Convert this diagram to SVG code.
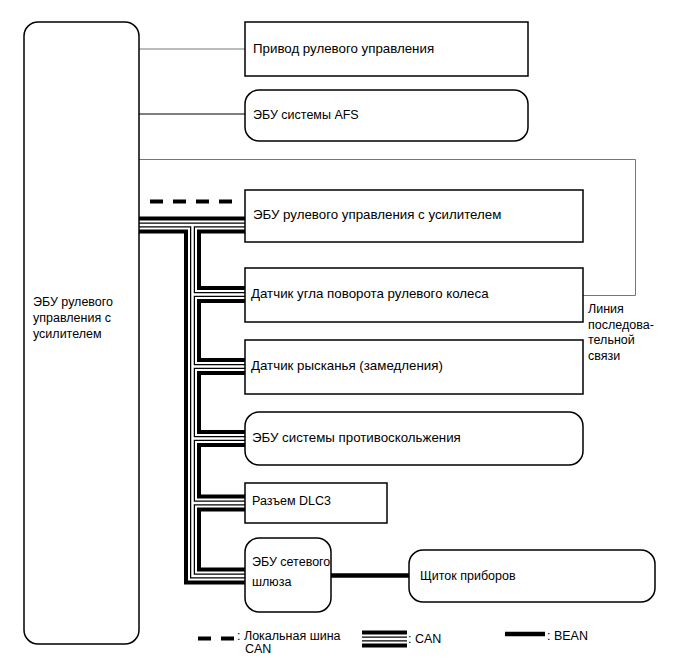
<svg xmlns="http://www.w3.org/2000/svg" xmlns:xlink="http://www.w3.org/1999/xlink" width="691" height="660" viewBox="0 0 691 660">
<style>
text{font-family:"Liberation Sans",Arial,sans-serif;font-size:12.5px;fill:#000}
.lg{font-size:13.3px}
.box{fill:#fff;stroke:#000;stroke-width:1.5}
.thin{fill:none;stroke:#000;stroke-width:1}
.gray{fill:none;stroke:#777;stroke-width:1}
.c1{fill:none;stroke:#000;stroke-width:17}
.c2{fill:none;stroke:#fff;stroke-width:9}
.c3{fill:none;stroke:#000;stroke-width:5}
.c4{fill:none;stroke:#fff;stroke-width:2.5}
.bean{fill:none;stroke:#000;stroke-width:4.5}
.dash{fill:none;stroke:#000;stroke-width:4;stroke-dasharray:13 10}
</style>
<defs>
<path id="canpath" d="M139,225 H245 M192.5,225 V576 H245 M192.5,294.5 H245 M192.5,366.5 H245 M192.5,438.5 H245 M192.5,503 H245" stroke-linejoin="miter"/>
<path id="canleg" d="M362,639 H407"/>
</defs>
<rect width="691" height="660" fill="#fff"/>
<g id="connectors">
<line class="gray" x1="139" y1="49" x2="245" y2="49"/>
<line class="thin" x1="139" y1="114" x2="245" y2="114"/>
<polyline class="gray" points="139,159.5 635.5,159.5 635.5,295.5 583,295.5"/>
<line class="dash" x1="150" y1="201.5" x2="236" y2="201.5"/>
<use xlink:href="#canpath" class="c1"/>
<use xlink:href="#canpath" class="c2"/>
<use xlink:href="#canpath" class="c3"/>
<use xlink:href="#canpath" class="c4"/>
<line class="bean" x1="331" y1="575.5" x2="409" y2="575.5"/>
</g>
<g id="main-ecu">
<rect class="box" x="24" y="22" width="115" height="622" rx="14"/>
<text x="33" y="306">ЭБУ рулевого</text>
<text x="33" y="322">управления с</text>
<text x="33" y="338">усилителем</text>
</g>
<g id="actuator">
<rect class="box" x="245" y="22" width="283" height="54"/>
<text class="lg" x="253" y="53">Привод рулевого управления</text>
</g>
<g id="afs-ecu">
<rect class="box" x="245" y="90" width="283" height="51" rx="14"/>
<text x="253" y="119">ЭБУ системы AFS</text>
</g>
<g id="eps-ecu">
<rect class="box" x="245" y="190" width="338" height="52"/>
<text class="lg" x="253" y="219">ЭБУ рулевого управления с усилителем</text>
</g>
<g id="steering-sensor">
<rect class="box" x="245" y="268" width="338" height="54"/>
<text class="lg" x="251" y="298">Датчик угла поворота рулевого колеса</text>
</g>
<g id="yaw-sensor">
<rect class="box" x="245" y="340" width="338" height="54"/>
<text class="lg" x="251" y="370">Датчик рысканья (замедления)</text>
</g>
<g id="skid-ecu">
<rect class="box" x="245" y="412" width="338" height="53" rx="14"/>
<text class="lg" x="252" y="442">ЭБУ системы противоскольжения</text>
</g>
<g id="dlc3">
<rect class="box" x="245" y="483" width="142" height="40"/>
<text x="252" y="505">Разъем DLC3</text>
</g>
<g id="gateway-ecu">
<rect class="box" x="245" y="538" width="86" height="74" rx="14"/>
<text x="252" y="566">ЭБУ сетевого</text>
<text x="252" y="586">шлюза</text>
</g>
<g id="combination-meter">
<rect class="box" x="409" y="550" width="246" height="52" rx="14"/>
<text x="420" y="580">Щиток приборов</text>
</g>
<g id="serial-label">
<text x="588" y="313">Линия</text>
<text x="588" y="329">последова-</text>
<text x="588" y="344">тельной</text>
<text x="588" y="360">связи</text>
</g>
<g id="legend">
<line class="dash" x1="198" y1="638.5" x2="234" y2="638.5"/>
<text x="237" y="640">: Локальная шина</text>
<text x="245" y="653">CAN</text>
<use xlink:href="#canleg" class="c1"/>
<use xlink:href="#canleg" class="c2"/>
<use xlink:href="#canleg" class="c3"/>
<use xlink:href="#canleg" class="c4"/>
<text x="408" y="643">: CAN</text>
<line class="bean" x1="505" y1="634" x2="545" y2="634"/>
<text x="547" y="640">: BEAN</text>
</g>
</svg>
